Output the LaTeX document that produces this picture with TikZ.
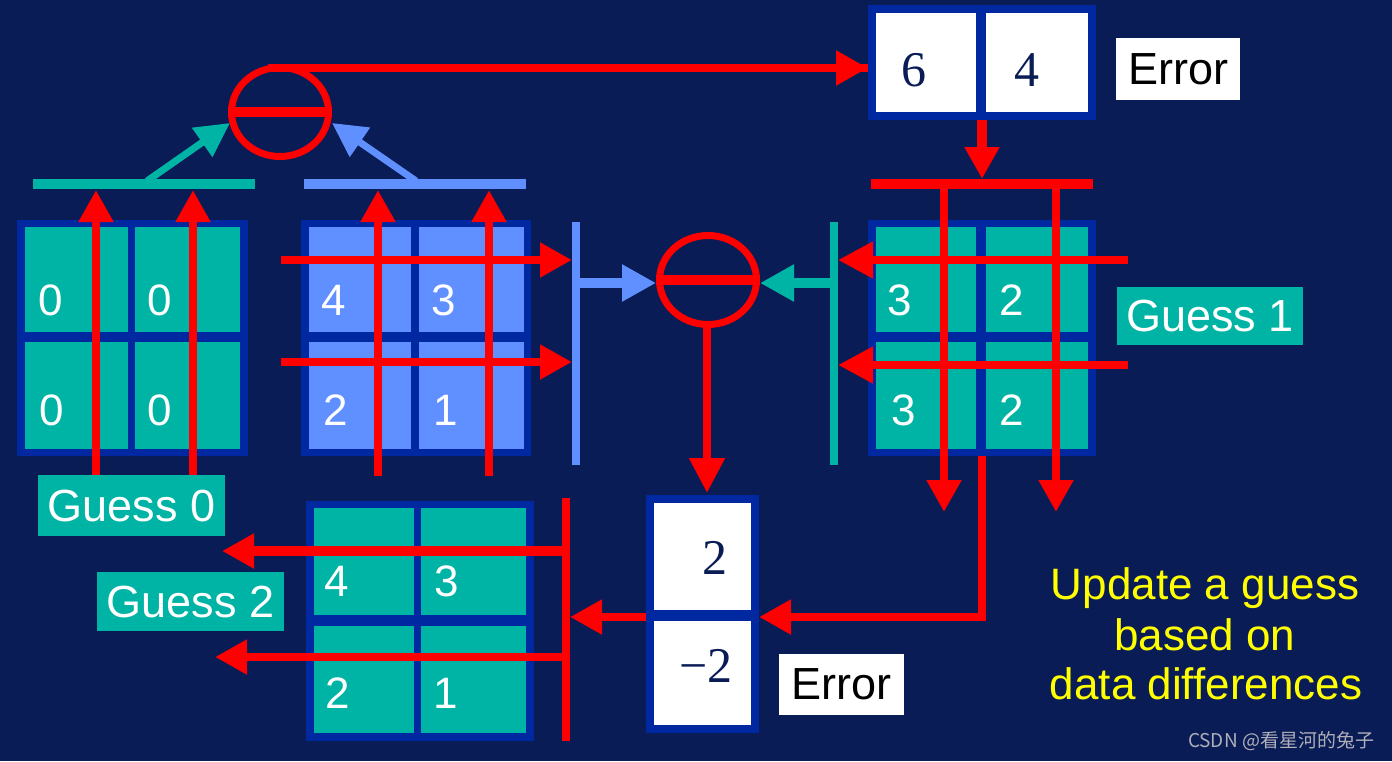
\documentclass[tikz,border=0pt]{standalone}
\usepackage{fontspec}
\setmainfont{Liberation Sans}
\newfontfamily\numserif{Liberation Serif}
\newfontfamily\cjkfont{Noto Sans CJK SC}
\usetikzlibrary{arrows.meta,shapes.geometric}
\definecolor{bgnavy}{RGB}{10,28,85}
\definecolor{bordblue}{RGB}{0,40,160}
\definecolor{tealc}{RGB}{0,180,165}
\definecolor{lblue}{RGB}{96,144,255}
\definecolor{redc}{RGB}{255,0,0}
\definecolor{yel}{RGB}{255,255,0}
\definecolor{wmgray}{RGB}{175,175,185}
\newcommand\digfont{\fontsize{44}{48}\selectfont}
\newcommand\labfont{\fontsize{45}{50}\selectfont}
\newcommand\sernum{\numserif\fontsize{50}{54}\selectfont}
\newcommand\yelfont{\fontsize{44}{50}\selectfont}
% \rbox{x1}{y1}{x2}{y2}{name}{fill}{text}
\newcommand\rbox[7]{\node[plainbox, fill=#6, minimum width={(#3-#1)*1pt}, minimum height={(#4-#2)*1pt}] (#5) at ({(#1+#3)/2},{(#2+#4)/2}) {#7};}
\tikzset{
  plainbox/.style={rectangle, inner sep=0pt, outer sep=0pt, draw=none},
  dig/.style={inner sep=0pt, text=white, font=\digfont},
  snum/.style={inner sep=0pt, text=bgnavy, font=\sernum},
  rarr/.style={draw=redc, line width=8pt, -{Triangle[length=32pt,width=33pt]}},
  rline/.style={draw=redc, line width=8pt},
  tarr/.style={draw=tealc, line width=10pt, -{Triangle[length=34pt,width=35pt]}},
  barr/.style={draw=lblue, line width=10pt, -{Triangle[length=34pt,width=35pt]}},
  ring/.style={ellipse, draw=redc, line width=7pt, inner sep=0pt, minimum width=97pt, minimum height=89pt},
}
\begin{document}
\begin{tikzpicture}[x=1pt,y=-1pt]
\fill[bgnavy] (0,0) rectangle (1392,761);
\useasboundingbox (0,0) rectangle (1392,761);

% ---------- Guess 0 grid ----------
\rbox{17}{220}{248}{456}{g0}{bordblue}{}
\rbox{25}{227}{128}{332}{g0a}{tealc}{}
\rbox{135}{227}{240}{332}{g0b}{tealc}{}
\rbox{25}{342}{128}{449}{g0c}{tealc}{}
\rbox{135}{342}{240}{449}{g0d}{tealc}{}
\node[dig] (d0a) at (51,300) {0};
\node[dig] (d0b) at (160,300) {0};
\node[dig] (d0c) at (52,410) {0};
\node[dig] (d0d) at (160,410) {0};
\rbox{38}{475}{225}{536}{lab0}{tealc}{\color{white}\labfont Guess 0}

% ---------- blue grid ----------
\rbox{301}{220}{531}{456}{gb}{bordblue}{}
\rbox{309}{227}{411}{332}{gba}{lblue}{}
\rbox{419}{227}{524}{332}{gbb}{lblue}{}
\rbox{309}{342}{411}{449}{gbc}{lblue}{}
\rbox{419}{342}{524}{449}{gbd}{lblue}{}
\node[dig] (dba) at (334,300) {4};
\node[dig] (dbb) at (444,300) {3};
\node[dig] (dbc) at (336,410) {2};
\node[dig] (dbd) at (446,410) {1};

% ---------- Guess 1 grid ----------
\rbox{868}{220}{1096}{456}{g1}{bordblue}{}
\rbox{876}{227}{976}{332}{g1a}{tealc}{}
\rbox{986}{227}{1088}{332}{g1b}{tealc}{}
\rbox{876}{342}{976}{449}{g1c}{tealc}{}
\rbox{986}{342}{1088}{449}{g1d}{tealc}{}
\node[dig] (d1a) at (900,300) {3};
\node[dig] (d1b) at (1012,300) {2};
\node[dig] (d1c) at (904,410) {3};
\node[dig] (d1d) at (1012,410) {2};
\rbox{1117}{287}{1303}{345}{lab1}{tealc}{\color{white}\labfont Guess 1}

% ---------- Guess 2 grid ----------
\rbox{306}{501}{534}{741}{g2}{bordblue}{}
\rbox{314}{508}{414}{615}{g2a}{tealc}{}
\rbox{421}{508}{526}{615}{g2b}{tealc}{}
\rbox{314}{626}{414}{733}{g2c}{tealc}{}
\rbox{421}{626}{526}{733}{g2d}{tealc}{}
\node[dig] (d2a) at (337,581) {4};
\node[dig] (d2b) at (447,581) {3};
\node[dig] (d2c) at (338,693) {2};
\node[dig] (d2d) at (446,693) {1};
\rbox{97}{572}{284}{631}{lab2}{tealc}{\color{white}\labfont Guess 2}

% ---------- Error boxes ----------
\rbox{868}{5}{1096}{120}{e1}{bordblue}{}
\rbox{876}{13}{976}{112}{e1a}{white}{}
\rbox{986}{13}{1088}{112}{e1b}{white}{}
\node[snum] (n6) at (914,70) {6};
\node[snum] (n4) at (1027,70) {4};
\rbox{1116}{38}{1240}{100}{err1}{white}{\labfont Error}

\rbox{646}{495}{759}{733}{e2}{bordblue}{}
\rbox{654}{503}{751}{610}{e2a}{white}{}
\rbox{654}{621}{751}{725}{e2b}{white}{}
\node[snum] (n2) at (715,558) {2};
\node[snum] (nm2) at (706,666) {−2};
\rbox{779}{654}{904}{715}{err2}{white}{\labfont Error}

% ---------- bars ----------
\rbox{33}{179}{255}{189}{bar0}{tealc}{}
\rbox{304}{179}{526}{189}{barb}{lblue}{}
\rbox{871}{179}{1093}{189}{bar1}{redc}{}
\rbox{572}{222}{580}{465}{vbarb}{lblue}{}
\rbox{830}{222}{838}{465}{vbart}{tealc}{}
\rbox{562}{498}{570}{741}{vbarr}{redc}{}

% ---------- subtractors ----------
\node[ring] (c1) at (280,112) {};
\draw[redc, line width=10pt] (c1.west) -- (c1.east);
\node[ring] (c2) at (708,280) {};
\draw[redc, line width=10pt] (c2.west) -- (c2.east);

% ---------- coordinates ----------
\coordinate (c1s) at (268,68);
\coordinate (t0s) at (147,181);
\coordinate (t0e) at (230,123);
\coordinate (bbs) at (416,181);
\coordinate (bbe) at (332,123);
\coordinate (u0a) at (96,475);   \coordinate (u0ae) at (96,190);
\coordinate (u0b) at (193,475);  \coordinate (u0be) at (193,190);
\coordinate (uba) at (378,476);  \coordinate (ubae) at (378,190);
\coordinate (ubb) at (489,476);  \coordinate (ubbe) at (489,190);
\coordinate (lb1) at (281,260);
\coordinate (lb2) at (281,362);
\coordinate (r1s) at (1128,260);
\coordinate (r2s) at (1128,365);
\coordinate (dn1) at (944,512);
\coordinate (dn2) at (1056,512);
\coordinate (c2e) at (707,493);
\coordinate (corner) at (982,617);
\coordinate (o1) at (222,551);
\coordinate (o2) at (215,657);

% ---------- connectors ----------
\draw[rline] (c1s) -- (c1s -| e1.west) coordinate (e1in);
\draw[rarr] ([xshift=-40pt]e1in) -- (e1in);
\draw[tarr, line width=7pt, -{Triangle[length=34pt,width=34pt]}] (t0s) -- (t0e);
\draw[barr, line width=7pt, -{Triangle[length=34pt,width=34pt]}] (bbs) -- (bbe);
\draw[rarr] (u0a) -- (u0ae);
\draw[rarr] (u0b) -- (u0be);
\draw[rarr] (uba) -- (ubae);
\draw[rarr] (ubb) -- (ubbe);
\draw[rarr] (lb1) -- (lb1 -| vbarb.west);
\draw[rarr] (lb2) -- (lb2 -| vbarb.west);
\draw[barr] (vbarb.east |- c2) ++(0,3) -- ([yshift=-3pt]c2.west);
\draw[tarr] (vbart.west |- c2) ++(0,3) -- ([yshift=-3pt]c2.east);
\draw[rarr, -{Triangle[length=35pt,width=34pt]}] (c2e |- c2.south) -- (c2e);
\draw[rarr, line width=10pt] (e1.south -| bar1) -- (bar1.north);
\draw[rarr] (dn1 |- bar1.south) -- (dn1);
\draw[rarr] (dn2 |- bar1.south) -- (dn2);
\draw[rarr, -{Triangle[length=35pt,width=35pt]}] (r1s) -- (r1s -| vbart.east);
\draw[rarr, -{Triangle[length=35pt,width=35pt]}] (r2s) -- (r2s -| vbart.east);
\draw[rarr] (corner |- g1.south) -- (corner) -- (corner -| e2.east);
\draw[rarr] (corner -| e2.west) -- (corner -| vbarr.east);
\draw[rarr, line width=10pt] (o1 -| vbarr.west) -- (o1);
\draw[rarr, line width=8pt] (o2 -| vbarr.west) -- (o2);

% ---------- caption ----------
\node[anchor=base, text=yel, font=\yelfont, inner sep=0pt] (y1) at (1205,599) {Update a guess};
\node[anchor=base, text=yel, font=\yelfont, inner sep=0pt] (y2) at (1205,650) {based on};
\node[anchor=base, text=yel, font=\yelfont, inner sep=0pt] (y3) at (1206,699) {data differences};
\node[text=wmgray, font=\cjkfont\fontsize{19}{22}\selectfont, inner sep=0pt] (wm) at (1281,741) {CSDN @看星河的兔子};
\end{tikzpicture}
\end{document}
